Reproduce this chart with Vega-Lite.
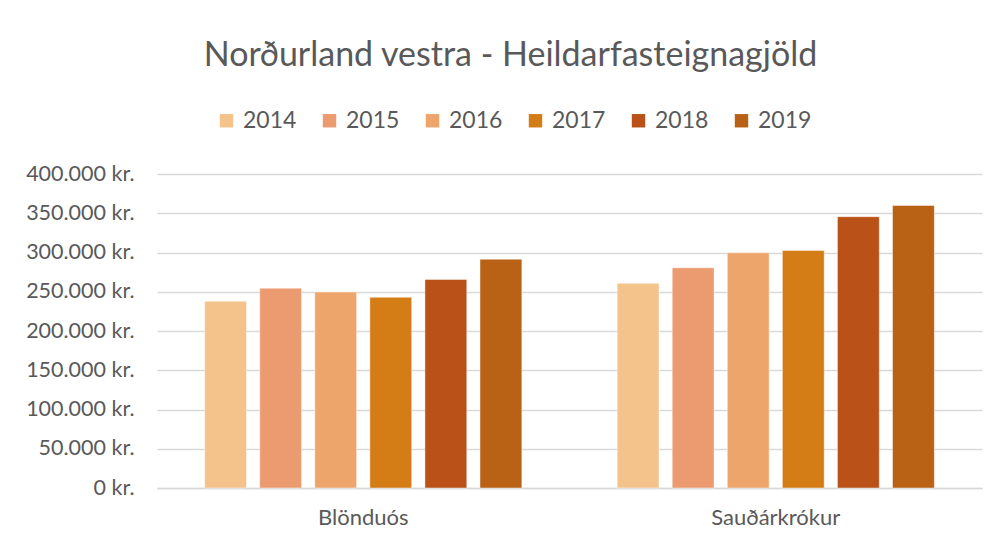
{
  "$schema": "https://vega.github.io/schema/vega-lite/v6.json",
  "width": 825,
  "height": 314,
  "autosize": {"type": "none"},
  "padding": {"left": 157, "top": 174, "right": 16, "bottom": 57},
  "background": "white",
  "title": {
    "text": "Norðurland vestra - Heildarfasteignagjöld",
    "font": "Lato",
    "fontSize": 34,
    "fontWeight": "normal",
    "color": "#595959",
    "anchor": "middle",
    "dx": -59,
    "offset": 36
  },
  "data": {
    "values": [
      {"stadur": "Blönduós", "ar": "2014", "gjold": 238000},
      {"stadur": "Blönduós", "ar": "2015", "gjold": 254500},
      {"stadur": "Blönduós", "ar": "2016", "gjold": 249600},
      {"stadur": "Blönduós", "ar": "2017", "gjold": 243000},
      {"stadur": "Blönduós", "ar": "2018", "gjold": 265700},
      {"stadur": "Blönduós", "ar": "2019", "gjold": 291500},
      {"stadur": "Sauðárkrókur", "ar": "2014", "gjold": 260700},
      {"stadur": "Sauðárkrókur", "ar": "2015", "gjold": 280500},
      {"stadur": "Sauðárkrókur", "ar": "2016", "gjold": 299600},
      {"stadur": "Sauðárkrókur", "ar": "2017", "gjold": 302500},
      {"stadur": "Sauðárkrókur", "ar": "2018", "gjold": 345600},
      {"stadur": "Sauðárkrókur", "ar": "2019", "gjold": 359800}
    ]
  },
  "mark": {"type": "bar", "stroke": "white", "strokeWidth": 0.75, "strokeOpacity": 0.6},
  "encoding": {
    "x": {
      "field": "stadur",
      "type": "nominal",
      "sort": null,
      "title": null,
      "scale": {"paddingInner": 0.231, "paddingOuter": 0.1155},
      "axis": {
        "labelAngle": 0,
        "labelFont": "Lato",
        "labelFontSize": 22,
        "labelColor": "#595959",
        "labelPadding": 19,
        "ticks": false,
        "domain": true,
        "domainColor": "#D9D9D9",
        "domainWidth": 1.3
      }
    },
    "xOffset": {
      "field": "ar",
      "type": "nominal",
      "scale": {"paddingInner": 0.24, "paddingOuter": 0}
    },
    "y": {
      "field": "gjold",
      "type": "quantitative",
      "title": null,
      "scale": {"domain": [0, 400000], "nice": false},
      "axis": {
        "values": [0, 50000, 100000, 150000, 200000, 250000, 300000, 350000, 400000],
        "labelExpr": "replace(format(datum.value, ','), ',', '.') + ' kr.'",
        "labelFont": "Lato",
        "labelFontSize": 21.5,
        "labelColor": "#595959",
        "labelPadding": 23,
        "ticks": false,
        "domain": false,
        "grid": true,
        "gridColor": "#D9D9D9",
        "gridWidth": 1.3
      }
    },
    "color": {
      "field": "ar",
      "type": "nominal",
      "title": null,
      "scale": {
        "domain": ["2014", "2015", "2016", "2017", "2018", "2019"],
        "range": ["#F4C38B", "#EB9B6F", "#EEA56B", "#D47C15", "#B95118", "#B96115"]
      },
      "legend": {
        "orient": "none",
        "direction": "horizontal",
        "legendX": 58,
        "legendY": -65,
        "symbolType": "square",
        "symbolSize": 180,
        "symbolStrokeWidth": 0,
        "labelFont": "Lato",
        "labelFontSize": 23,
        "labelColor": "#595959",
        "labelOffset": 5,
        "columnPadding": 21
      }
    }
  },
  "config": {"view": {"stroke": null}}
}
